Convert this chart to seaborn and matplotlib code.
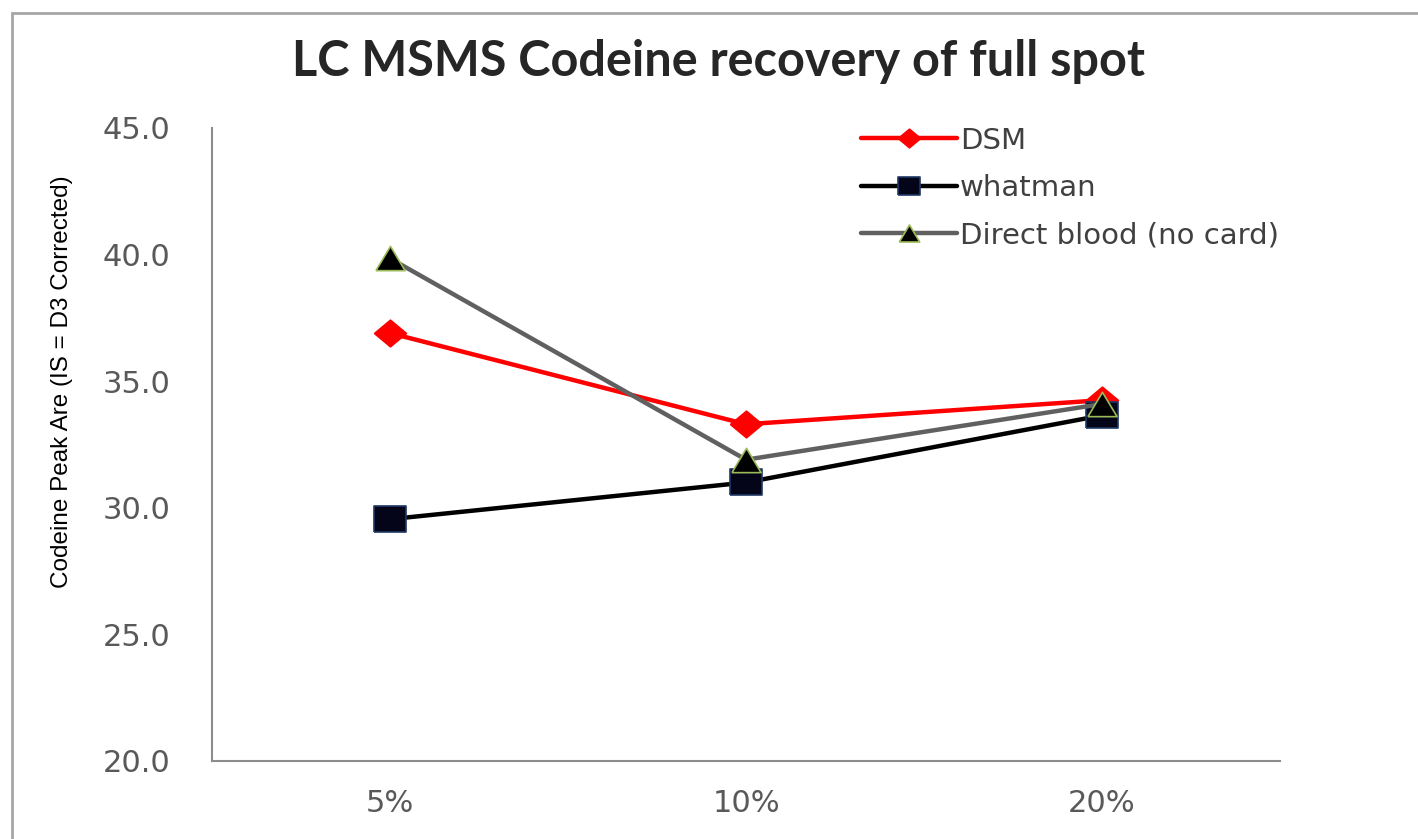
import pandas as pd
import matplotlib
matplotlib.use("Agg")
import matplotlib.pyplot as plt
from matplotlib.patches import Rectangle
import seaborn as sns


concentration = ["5%", "10%", "20%"]
dsm = [36.9, 33.3, 34.25]
whatman = [29.55, 31.0, 33.65]
direct_blood = [39.85, 31.9, 34.1]

series_names = ["DSM", "whatman", "Direct blood (no card)"]
series_values = [dsm, whatman, direct_blood]

# wide-ish markers, the original picture is a little stretched sideways
diamond = [(-1.2, 0), (0, 1), (1.2, 0), (0, -1), (-1.2, 0)]
square = [(-1.25, -1), (1.25, -1), (1.25, 1), (-1.25, 1), (-1.25, -1)]
triangle = [(-1.2, -1), (1.2, -1), (0, 1), (-1.2, -1)]

styles = {
    "DSM": dict(color="#ff0000", marker=diamond, markersize=23,
                markeredgecolor="#ff0000", markerfacecolor="#ff0000"),
    "whatman": dict(color="#000000", marker=square, markersize=23,
                    markeredgecolor="#1f3864", markerfacecolor="#05051a"),
    "Direct blood (no card)": dict(color="#606060", marker=triangle, markersize=21,
                                   markeredgecolor="#9bbb59", markerfacecolor="#000000"),
}


def build_frame():
    rows = []
    for name, values in zip(series_names, series_values):
        for conc, val in zip(concentration, values):
            rows.append({"Concentration": conc, "Value": val, "Series": name})
    return pd.DataFrame(rows)


def plot(df, out_file_path):
    sns.set_style("white")
    plt.rcParams["font.family"] = ["DejaVu Sans"]

    fig = plt.figure(figsize=(14.18, 8.39), dpi=100)
    ax = fig.add_axes([212 / 1418, 1 - 761 / 839, 1068 / 1418, 633 / 839])

    for name in series_names:
        sub = df[df["Series"] == name]
        st = styles[name]
        sns.lineplot(data=sub, x="Concentration", y="Value", sort=False, ax=ax,
                     label=name, color=st["color"], lw=3.2,
                     marker=st["marker"], markersize=st["markersize"],
                     markeredgecolor=st["markeredgecolor"],
                     markerfacecolor=st["markerfacecolor"], markeredgewidth=1.2)

    ax.set_xlim(-0.5, 2.5)
    ax.set_ylim(20, 45)
    ax.set_yticks([20, 25, 30, 35, 40, 45])
    ax.set_yticklabels([f"{v:.1f}" for v in [20, 25, 30, 35, 40, 45]])
    ax.tick_params(axis="both", length=0, labelsize=22, labelcolor="#595959")
    ax.tick_params(axis="y", pad=30)
    ax.tick_params(axis="x", pad=20)
    ax.grid(False)

    for side in ["top", "right"]:
        ax.spines[side].set_visible(False)
    for side in ["left", "bottom"]:
        ax.spines[side].set_color("#8c8c8c")
        ax.spines[side].set_linewidth(1.5)

    ax.set_xlabel("")
    ax.set_ylabel("Codeine Peak Are (IS = D3 Corrected)", fontsize=17.5,
                  family=["Liberation Sans", "DejaVu Sans"], color="#000000")
    ax.yaxis.set_label_coords(-0.13, 0.60)

    fig.suptitle("LC MSMS Codeine recovery of full spot", x=719 / 1418, y=1 - 62 / 839,
                 va="center", fontsize=35, fontweight="bold",
                 family=["Lato", "DejaVu Sans"], color="#262626")

    leg = ax.legend(loc="upper left", bbox_to_anchor=(846 / 1418, 1 - 112 / 839),
                    bbox_transform=fig.transFigure, frameon=False, fontsize=21,
                    handlelength=3.3, handletextpad=0.1, labelspacing=0.66,
                    borderpad=0, markerscale=0.7)
    for txt in leg.get_texts():
        txt.set_color("#404040")

    # outer chart border, runs off the right and bottom of the picture
    fig.add_artist(Rectangle((12 / 1418, -0.1), 1.2, 0.1 + (839 - 13) / 839,
                             transform=fig.transFigure, fill=False,
                             edgecolor="#a6a6a6", linewidth=2))

    fig.savefig(out_file_path, dpi=100)


if __name__ == "__main__":
    data = build_frame()
    plot(data, "out.png")
